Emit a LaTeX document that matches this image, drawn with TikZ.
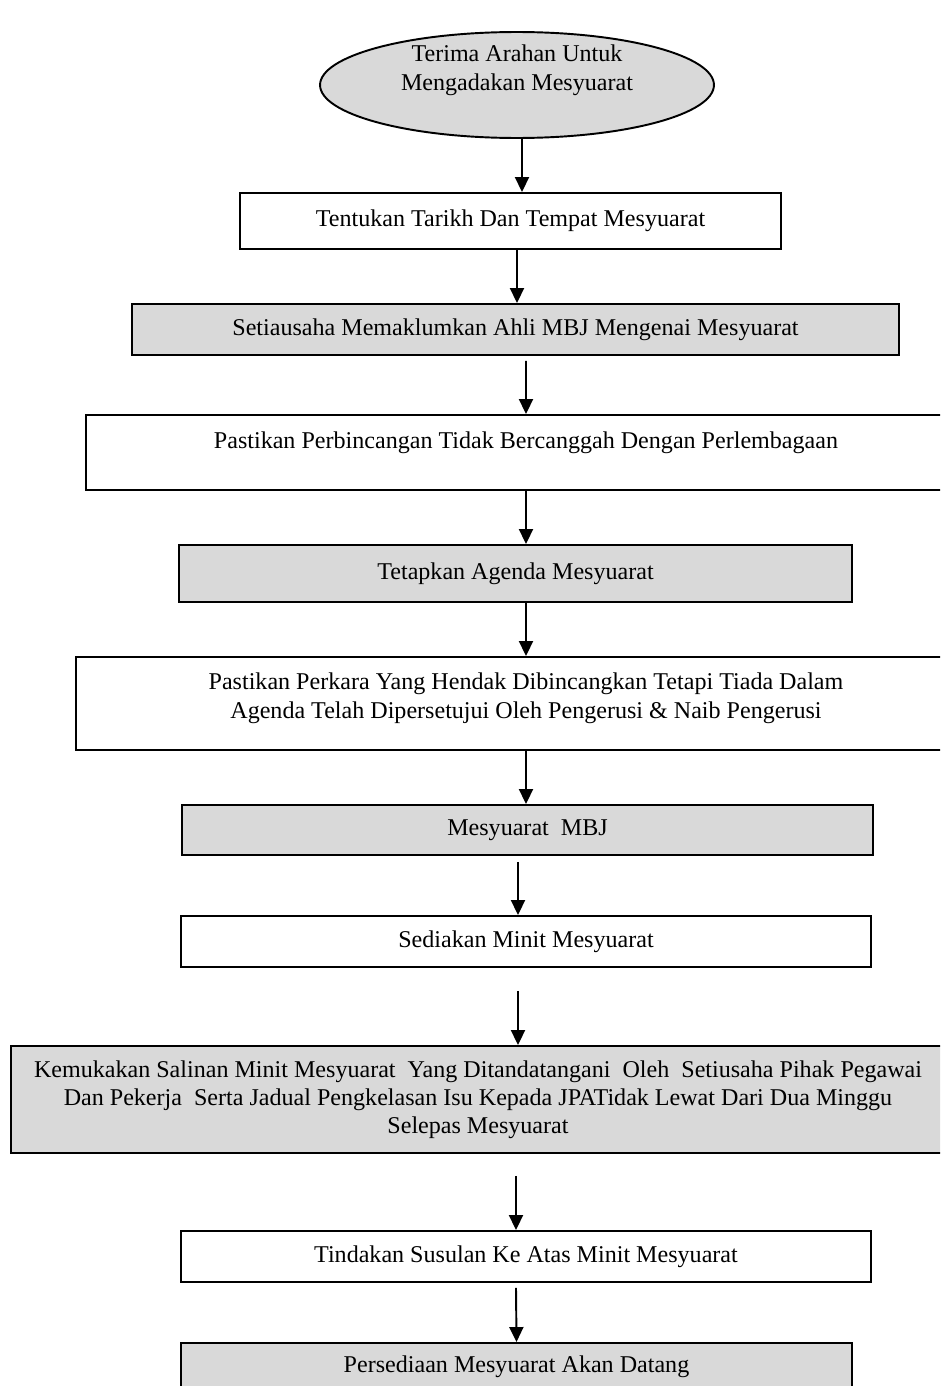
\documentclass[tikz,border=0pt]{standalone}
\usepackage{fontspec}
\setmainfont{Liberation Serif}
\usetikzlibrary{shapes.geometric,arrows.meta}
\begin{document}
\begin{tikzpicture}[
  x=0.02cm, y=-0.02cm,
  block/.style={rectangle, draw, line width=1.1pt, inner sep=0pt, align=center, font=\fontsize{13.7}{16}\selectfont},
  greyblock/.style={block, fill=black!15},
  line/.style={-{Triangle[length=0.3cm,width=0.28cm]}, line width=1.1pt}
]
\clip (0,0) rectangle (940,1386);

\node[ellipse, draw, fill=black!15, line width=1.1pt, inner sep=0pt, align=center, font=\fontsize{13.7}{16}\selectfont,
  minimum width=7.88cm, minimum height=2.12cm, text height=5.8pt, text depth=0pt] (start) at (517,85) {Terima Arahan Untuk\\Mengadakan Mesyuarat};
\node[block, minimum width=10.82cm, minimum height=1.12cm] (date) at (510.5,221) {Tentukan Tarikh Dan Tempat Mesyuarat};
\node[greyblock, minimum width=15.34cm, minimum height=1.02cm] (notify) at (515.5,329.5) {Setiausaha Memaklumkan Ahli MBJ Mengenai Mesyuarat};
\node[block, minimum width=17.6cm, minimum height=1.5cm, text height=0pt, text depth=4.8pt] (check) at (526,452.5) {Pastikan Perbincangan Tidak Bercanggah Dengan Perlembagaan};
\node[greyblock, minimum width=13.46cm, minimum height=1.14cm] (agenda) at (515.5,573.5) {Tetapkan Agenda Mesyuarat};
\node[block, minimum width=18cm, minimum height=1.86cm, text height=16.6pt, text depth=0pt] (approve) at (526,703.5) {Pastikan Perkara Yang Hendak Dibincangkan Tetapi Tiada Dalam\\Agenda Telah Dipersetujui Oleh Pengerusi \& Naib Pengerusi};
\node[greyblock, minimum width=13.82cm, minimum height=1cm] (meet) at (527.5,830) {Mesyuarat~ MBJ};
\node[block, minimum width=13.8cm, minimum height=1.02cm] (minutes) at (526,941.5) {Sediakan Minit Mesyuarat};
\node[greyblock, minimum width=18.68cm, minimum height=2.14cm] (submit) at (478,1099.5) {Kemukakan Salinan Minit Mesyuarat~ Yang Ditandatangani~ Oleh~ Setiusaha Pihak Pegawai\\Dan Pekerja~ Serta Jadual Pengkelasan Isu Kepada JPATidak Lewat Dari Dua Minggu\\Selepas Mesyuarat};
\node[block, minimum width=13.8cm, minimum height=1.02cm] (follow) at (526,1256.5) {Tindakan Susulan Ke Atas Minit Mesyuarat};
\node[greyblock, minimum width=13.42cm, minimum height=1.2cm, text height=0pt, text depth=0.8pt] (next) at (516.5,1373) {Persediaan Mesyuarat Akan Datang};

\draw[line] ([shift={(5,0)}]start.south) -- ([shift={(11.5,0)}]date.north);
\draw[line] ([shift={(6.5,0)}]date.south) -- ([shift={(1.5,0)}]notify.north);
\draw[line] ([shift={(10.5,5)}]notify.south) -- (check.north);
\draw[line] (check.south) -- ([shift={(10.5,0)}]agenda.north);
\draw[line] ([shift={(10.5,0)}]agenda.south) -- (approve.north);
\draw[line] (approve.south) -- ([shift={(-1.5,0)}]meet.north);
\draw[line] ([shift={(-9.5,6)}]meet.south) -- ([shift={(-8,0)}]minutes.north);
\draw[line] ([shift={(-8,23)}]minutes.south) -- ([shift={(40,0)}]submit.north);
\draw[line] ([shift={(38,22)}]submit.south) -- ([shift={(-10,0)}]follow.north);
\draw[line] ([shift={(-10,5)}]follow.south) -- (next.north);
\end{tikzpicture}
\end{document}
